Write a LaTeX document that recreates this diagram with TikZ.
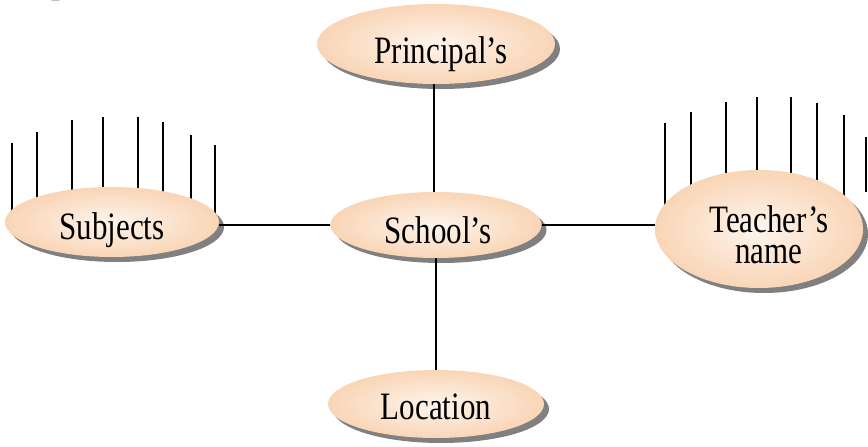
\documentclass[tikz,border=0pt]{standalone}
\usepackage{graphicx}
\usepackage{fontspec}
\setmainfont{Liberation Serif}
\usetikzlibrary{shapes.geometric,shadows}
\definecolor{peachin}{RGB}{254,245,237}
\definecolor{peachout}{RGB}{249,213,182}
\definecolor{shadowgray}{RGB}{128,128,128}
\tikzset{
  entity/.style={ellipse, inner sep=0pt, draw=none, shading=radial,
    inner color=peachin, outer color=peachout,
    drop shadow={shadow xshift=5pt, shadow yshift=-5pt, fill=shadowgray, opacity=1}},
  lbl/.style={anchor=base, inner sep=0pt, font=\fontsize{31}{25}\selectfont},
  conn/.style={line width=1.4pt},
  hair/.style={line width=1.4pt},
}
\newcommand{\stretchtxt}[1]{\scalebox{1}[1.25]{#1}}
\begin{document}
\begin{tikzpicture}[x=1pt,y=-1pt]
\useasboundingbox (0,0) rectangle (868,447);
% fragment of a cut-off heading
\node[anchor=base west, inner sep=0pt, font=\fontsize{31}{36}\selectfont\bfseries] (pfrag) at (51,-8) {\stretchtxt{p}};
% hair lines above Subjects
\foreach \x/\t/\b in {12/143/220, 37/132/210, 72/120/200, 103/117/197, 138/117/197, 163/122/202, 191/135/214, 215/145/221}
  \draw[hair] (\x,\t) -- (\x,\b);
% hair lines above Teacher's name
\foreach \x/\t/\b in {665/123/206, 691/112/192, 726/102/182, 757/97/179, 791/97/179, 817/103/185, 844/115/197}
  \draw[hair] (\x,\t) -- (\x,\b);
\draw[hair] (866,137) -- (866,192);
% entities
\node[entity, minimum width=238pt, minimum height=80pt] (P) at (436,44) {};
\node[entity, minimum width=211pt, minimum height=66pt] (S) at (436,225) {};
\node[entity, minimum width=216pt, minimum height=68pt] (L) at (436,404) {};
\node[entity, minimum width=214pt, minimum height=70pt] (Sub) at (112,222) {};
\node[entity, minimum width=208pt, minimum height=118pt] (T) at (759,229) {};
% labels
\node[lbl] (tP) at (441,63) {\stretchtxt{Principal’s}};
\node[lbl] (tS) at (438,243) {\stretchtxt{School’s}};
\node[lbl] (tL) at (436,419) {\stretchtxt{Location}};
\node[lbl] (tSub) at (112,239) {\stretchtxt{Subjects}};
\node[lbl] (tT) at (769,232) {\stretchtxt{\begin{tabular}[t]{@{}c@{}}Teacher’s\\name\end{tabular}}};
% connectors
\draw[conn] ([xshift=-2pt]P.south) -- ([xshift=-2pt]S.north);
\draw[conn] (S.south) -- (L.north);
\draw[conn] (Sub.east |- S.west) -- (S.west);
\draw[conn] (S.east) -- (S.east -| T.west);
\end{tikzpicture}
\end{document}
